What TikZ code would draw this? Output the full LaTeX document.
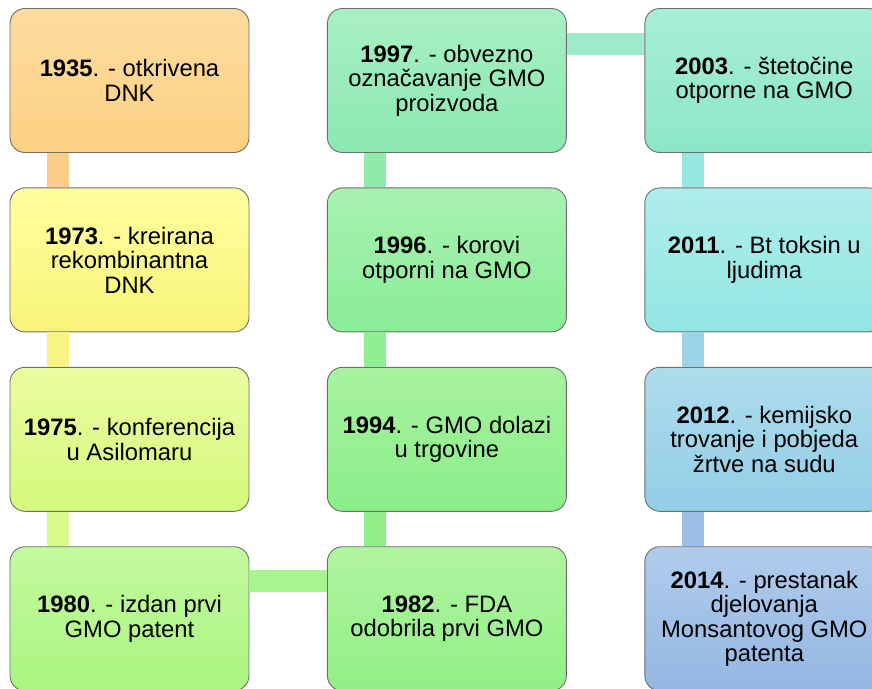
\documentclass[tikz,border=0pt]{standalone}
\usepackage{fontspec}
\setmainfont{Liberation Sans}
\usepackage{tikz}
\usetikzlibrary{positioning,calc}
\definecolor{boxGray}{RGB}{110,110,110}
\definecolor{orangeTop}{RGB}{253,220,160}
\definecolor{orangeBot}{RGB}{252,208,130}
\definecolor{yellowTop}{RGB}{255,254,158}
\definecolor{yellowBot}{RGB}{248,244,122}
\definecolor{limeTop}{RGB}{234,252,160}
\definecolor{limeBot}{RGB}{212,249,124}
\definecolor{lgreenTop}{RGB}{196,249,160}
\definecolor{lgreenBot}{RGB}{170,245,128}
\definecolor{greenATop}{RGB}{176,245,160}
\definecolor{greenABot}{RGB}{146,239,134}
\definecolor{greenBTop}{RGB}{168,242,160}
\definecolor{greenBBot}{RGB}{138,238,136}
\definecolor{greenCTop}{RGB}{168,242,176}
\definecolor{greenCBot}{RGB}{138,236,152}
\definecolor{mintTop}{RGB}{168,240,196}
\definecolor{mintBot}{RGB}{140,232,176}
\definecolor{aquaTop}{RGB}{168,238,216}
\definecolor{aquaBot}{RGB}{140,230,200}
\definecolor{cyanTop}{RGB}{174,237,236}
\definecolor{cyanBot}{RGB}{146,230,226}
\definecolor{skyTop}{RGB}{174,220,236}
\definecolor{skyBot}{RGB}{146,205,230}
\definecolor{blueTop}{RGB}{176,204,236}
\definecolor{blueBot}{RGB}{148,182,226}
\definecolor{linkOrange}{RGB}{251,205,136}
\definecolor{linkYellow}{RGB}{248,244,132}
\definecolor{linkLime}{RGB}{216,249,140}
\definecolor{linkLGreen}{RGB}{168,245,144}
\definecolor{linkGreenA}{RGB}{146,238,138}
\definecolor{linkGreenB}{RGB}{144,238,148}
\definecolor{linkGreenC}{RGB}{144,234,170}
\definecolor{linkMint}{RGB}{158,235,203}
\definecolor{linkAqua}{RGB}{148,232,223}
\definecolor{linkCyan}{RGB}{157,211,230}
\definecolor{linkSky}{RGB}{157,189,228}
\tikzset{
	event/.style 2 args={draw=boxGray,line width=.9pt,rounded corners=15pt,minimum width=239pt,minimum height=144pt,align=center,top color=#1,bottom color=#2,inner sep=0pt,font=\fontsize{23.8}{24.5}\selectfont},
	link/.style={line width=22pt,draw=#1},
}
\begin{document}
\begin{tikzpicture}[x=1pt,y=1pt]
	\useasboundingbox (0,0) rectangle (872,-688);
	\clip (0,0) rectangle (872,-688);
	\node [event={orangeTop}{orangeBot}] (y1935) at (129.5,-80.5) {\textbf{1935}. - otkrivena\\DNK};
	\node [event={yellowTop}{yellowBot},below=34.5pt of y1935] (y1973) {\textbf{1973}. - kreirana\\rekombinantna\\DNK};
	\node [event={limeTop}{limeBot},below=34.5pt of y1973] (y1975) {\textbf{1975}. - konferencija\\u Asilomaru};
	\node [event={lgreenTop}{lgreenBot},below=34.5pt of y1975] (y1980) {\textbf{1980}. - izdan prvi\\GMO patent};
	\node [event={greenATop}{greenABot},right=77.5pt of y1980] (y1982) {\textbf{1982}. - FDA\\odobrila prvi GMO};
	\node [event={greenBTop}{greenBBot},above=34.5pt of y1982] (y1994) {\textbf{1994}. - GMO dolazi\\u trgovine};
	\node [event={greenCTop}{greenCBot},above=34.5pt of y1994] (y1996) {\textbf{1996}. - korovi\\otporni na GMO};
	\node [event={mintTop}{mintBot},above=34.5pt of y1996] (y1997) {\textbf{1997}. - obvezno\\označavanje GMO\\proizvoda};
	\node [event={aquaTop}{aquaBot},right=77.5pt of y1997] (y2003) {\textbf{2003}. - štetočine\\otporne na GMO};
	\node [event={cyanTop}{cyanBot},below=34.5pt of y2003] (y2011) {\textbf{2011}. - Bt toksin u\\ljudima};
	\node [event={skyTop}{skyBot},below=34.5pt of y2011] (y2012) {\textbf{2012}. - kemijsko\\trovanje i pobjeda\\žrtve na sudu};
	\node [event={blueTop}{blueBot},below=34.5pt of y2012] (y2014) {\textbf{2014}. - prestanak\\djelovanja\\Monsantovog GMO\\patenta};
	\draw [link=linkOrange] ([xshift=48.5pt]y1935.south west) -- ([xshift=48.5pt]y1973.north west);
	\draw [link=linkYellow] ([xshift=48.5pt]y1973.south west) -- ([xshift=48.5pt]y1975.north west);
	\draw [link=linkLime] ([xshift=48.5pt]y1975.south west) -- ([xshift=48.5pt]y1980.north west);
	\draw [link=linkLGreen] ([yshift=-35pt]y1980.north east) -- ([yshift=-35pt]y1982.north west);
	\draw [link=linkGreenA] ([xshift=48.5pt]y1982.north west) -- ([xshift=48.5pt]y1994.south west);
	\draw [link=linkGreenB] ([xshift=48.5pt]y1994.north west) -- ([xshift=48.5pt]y1996.south west);
	\draw [link=linkGreenC] ([xshift=48.5pt]y1996.north west) -- ([xshift=48.5pt]y1997.south west);
	\draw [link=linkMint] ([yshift=-36pt]y1997.north east) -- ([yshift=-36pt]y2003.north west);
	\draw [link=linkAqua] ([xshift=48.5pt]y2003.south west) -- ([xshift=48.5pt]y2011.north west);
	\draw [link=linkCyan] ([xshift=48.5pt]y2011.south west) -- ([xshift=48.5pt]y2012.north west);
	\draw [link=linkSky] ([xshift=48.5pt]y2012.south west) -- ([xshift=48.5pt]y2014.north west);
\end{tikzpicture}
\end{document}
